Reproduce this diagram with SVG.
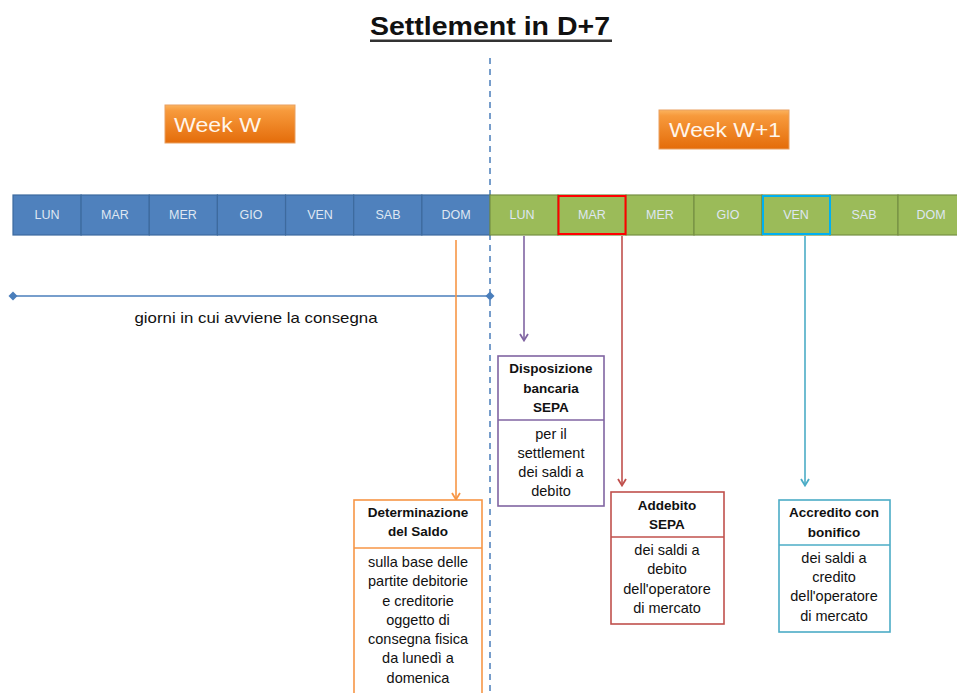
<svg xmlns="http://www.w3.org/2000/svg" width="957" height="693" viewBox="0 0 957 693">
<defs>
<linearGradient id="og" x1="0" y1="0" x2="0" y2="1">
<stop offset="0" stop-color="#fbb35e"/>
<stop offset="0.15" stop-color="#f79a3c"/>
<stop offset="1" stop-color="#e46c0a"/>
</linearGradient>
<marker id="aO" markerWidth="10" markerHeight="10" refX="8" refY="5" orient="auto" markerUnits="userSpaceOnUse" viewBox="0 0 10 10"><path d="M2,1 L8.5,5 L2,9" fill="none" stroke="#f79646" stroke-width="1.8"/></marker>
<marker id="aP" markerWidth="10" markerHeight="10" refX="8" refY="5" orient="auto" markerUnits="userSpaceOnUse" viewBox="0 0 10 10"><path d="M2,1 L8.5,5 L2,9" fill="none" stroke="#8064a2" stroke-width="1.8"/></marker>
<marker id="aR" markerWidth="10" markerHeight="10" refX="8" refY="5" orient="auto" markerUnits="userSpaceOnUse" viewBox="0 0 10 10"><path d="M2,1 L8.5,5 L2,9" fill="none" stroke="#c0504d" stroke-width="1.8"/></marker>
<marker id="aC" markerWidth="10" markerHeight="10" refX="8" refY="5" orient="auto" markerUnits="userSpaceOnUse" viewBox="0 0 10 10"><path d="M2,1 L8.5,5 L2,9" fill="none" stroke="#4bacc6" stroke-width="1.8"/></marker>
<marker id="dm" markerWidth="10" markerHeight="10" refX="5" refY="5" markerUnits="userSpaceOnUse" viewBox="0 0 10 10"><path d="M5,0.5 L9.5,5 L5,9.5 L0.5,5 Z" fill="#4a7ebb"/></marker>
</defs>
<style>
text{font-family:"Liberation Sans",Arial,sans-serif;}
.day{font-size:12.5px;fill:#dfe7f2;text-anchor:middle;}
.b{fill:#4f81bd;stroke:#3d6a9e;stroke-width:1.2;}
.g{fill:#9bbb59;stroke:#768f44;stroke-width:1.2;}
.h{font-size:13.5px;font-weight:bold;fill:#111;text-anchor:middle;}
.t{font-size:14.5px;fill:#111;text-anchor:middle;}
.wk{font-size:21px;fill:#fff5ea;}
</style>
<rect width="957" height="693" fill="#fff"/>
<g id="title">
<text x="490" y="35" font-size="26" font-weight="bold" text-anchor="middle" fill="#111" textLength="240" lengthAdjust="spacingAndGlyphs">Settlement in D+7</text>
<rect x="370" y="39.5" width="242" height="2.5" fill="#333"/>
</g>
<g id="divider">
<line x1="490" y1="58" x2="490" y2="693" stroke="#4a7ebb" stroke-width="1.5" stroke-dasharray="6,5"/>
</g>
<g id="weekW">
<rect x="165" y="105" width="130" height="38" fill="url(#og)" stroke="#e9a060" stroke-width="1"/>
<text class="wk" x="174" y="132" textLength="87" lengthAdjust="spacingAndGlyphs">Week W</text>
</g>
<g id="weekW1">
<rect x="659" y="110" width="130" height="39" fill="url(#og)" stroke="#e9a060" stroke-width="1"/>
<text class="wk" x="669" y="137" textLength="112" lengthAdjust="spacingAndGlyphs">Week W+1</text>
</g>
<g id="daybar">
<rect class="b" x="13" y="195" width="68.1" height="40"/>
<rect class="b" x="81.1" y="195" width="68.1" height="40"/>
<rect class="b" x="149.3" y="195" width="68.1" height="40"/>
<rect class="b" x="217.4" y="195" width="68.1" height="40"/>
<rect class="b" x="285.6" y="195" width="68.1" height="40"/>
<rect class="b" x="353.7" y="195" width="68.1" height="40"/>
<rect class="b" x="421.9" y="195" width="68.1" height="40"/>
<text class="day" x="47" y="219">LUN</text>
<text class="day" x="115" y="219">MAR</text>
<text class="day" x="183" y="219">MER</text>
<text class="day" x="251" y="219">GIO</text>
<text class="day" x="320" y="219">VEN</text>
<text class="day" x="388" y="219">SAB</text>
<text class="day" x="456" y="219">DOM</text>
<rect class="g" x="490" y="195" width="68" height="40"/>
<rect class="g" x="558" y="195" width="68" height="40"/>
<rect class="g" x="626" y="195" width="68" height="40"/>
<rect class="g" x="694" y="195" width="68" height="40"/>
<rect class="g" x="762" y="195" width="68" height="40"/>
<rect class="g" x="830" y="195" width="68" height="40"/>
<rect class="g" x="898" y="195" width="68" height="40"/>
<rect x="558.5" y="196" width="67" height="38" fill="none" stroke="#ff0000" stroke-width="2"/>
<rect x="763" y="196" width="67" height="38" fill="none" stroke="#00b0f0" stroke-width="2"/>
<text class="day" x="522" y="219">LUN</text>
<text class="day" x="592" y="219">MAR</text>
<text class="day" x="660" y="219">MER</text>
<text class="day" x="728" y="219">GIO</text>
<text class="day" x="796" y="219">VEN</text>
<text class="day" x="864" y="219">SAB</text>
<text class="day" x="931" y="219">DOM</text>
</g>
<g id="delivery">
<line x1="13" y1="296" x2="490" y2="296" stroke="#4a7ebb" stroke-width="1.6" marker-start="url(#dm)" marker-end="url(#dm)"/>
<text x="256" y="323" font-size="14.5" text-anchor="middle" fill="#111" textLength="243" lengthAdjust="spacingAndGlyphs">giorni in cui avviene  la consegna</text>
</g>
<g id="connectors">
<line x1="456" y1="240" x2="456" y2="499" stroke="#f79646" stroke-width="1.6" marker-end="url(#aO)"/>
<line x1="524" y1="236" x2="524" y2="340" stroke="#8064a2" stroke-width="1.6" marker-end="url(#aP)"/>
<line x1="622" y1="236" x2="622" y2="485" stroke="#c0504d" stroke-width="1.6" marker-end="url(#aR)"/>
<line x1="805" y1="236" x2="805" y2="485" stroke="#4bacc6" stroke-width="1.6" marker-end="url(#aC)"/>
</g>
<g id="determinazione">
<rect x="354" y="500" width="128" height="200" fill="#fff" stroke="#f79646" stroke-width="1.6"/>
<line x1="354" y1="548" x2="482" y2="548" stroke="#f79646" stroke-width="1.6"/>
<text class="h" x="418" y="517">Determinazione</text>
<text class="h" x="418" y="536">del Saldo</text>
<text class="t" x="418" y="567">sulla base delle</text>
<text class="t" x="418" y="586">partite debitorie</text>
<text class="t" x="418" y="606">e creditorie</text>
<text class="t" x="418" y="625">oggetto di</text>
<text class="t" x="418" y="644">consegna  fisica</text>
<text class="t" x="418" y="663">da lunedì a</text>
<text class="t" x="418" y="683">domenica</text>
</g>
<g id="disposizione">
<rect x="498" y="356" width="106" height="150" fill="#fff" stroke="#8064a2" stroke-width="1.6"/>
<line x1="498" y1="420" x2="604" y2="420" stroke="#8064a2" stroke-width="1.6"/>
<text class="h" x="551" y="373">Disposizione</text>
<text class="h" x="551" y="393">bancaria</text>
<text class="h" x="551" y="412">SEPA</text>
<text class="t" x="551" y="439">per il</text>
<text class="t" x="551" y="458">settlement</text>
<text class="t" x="551" y="477">dei saldi a</text>
<text class="t" x="551" y="496">debito</text>
</g>
<g id="addebito">
<rect x="611" y="492" width="113" height="132" fill="#fff" stroke="#c0504d" stroke-width="1.6"/>
<line x1="611" y1="537" x2="724" y2="537" stroke="#c0504d" stroke-width="1.6"/>
<text class="h" x="667" y="510">Addebito</text>
<text class="h" x="667" y="529">SEPA</text>
<text class="t" x="667" y="555">dei saldi a</text>
<text class="t" x="667" y="574">debito</text>
<text class="t" x="667" y="594">dell'operatore</text>
<text class="t" x="667" y="613">di mercato</text>
</g>
<g id="accredito">
<rect x="779" y="500" width="111" height="132" fill="#fff" stroke="#4bacc6" stroke-width="1.6"/>
<line x1="779" y1="545" x2="890" y2="545" stroke="#4bacc6" stroke-width="1.6"/>
<text class="h" x="834" y="517">Accredito con</text>
<text class="h" x="834" y="537">bonifico</text>
<text class="t" x="834" y="563">dei saldi a</text>
<text class="t" x="834" y="582">credito</text>
<text class="t" x="834" y="601">dell'operatore</text>
<text class="t" x="834" y="621">di mercato</text>
</g>
</svg>
